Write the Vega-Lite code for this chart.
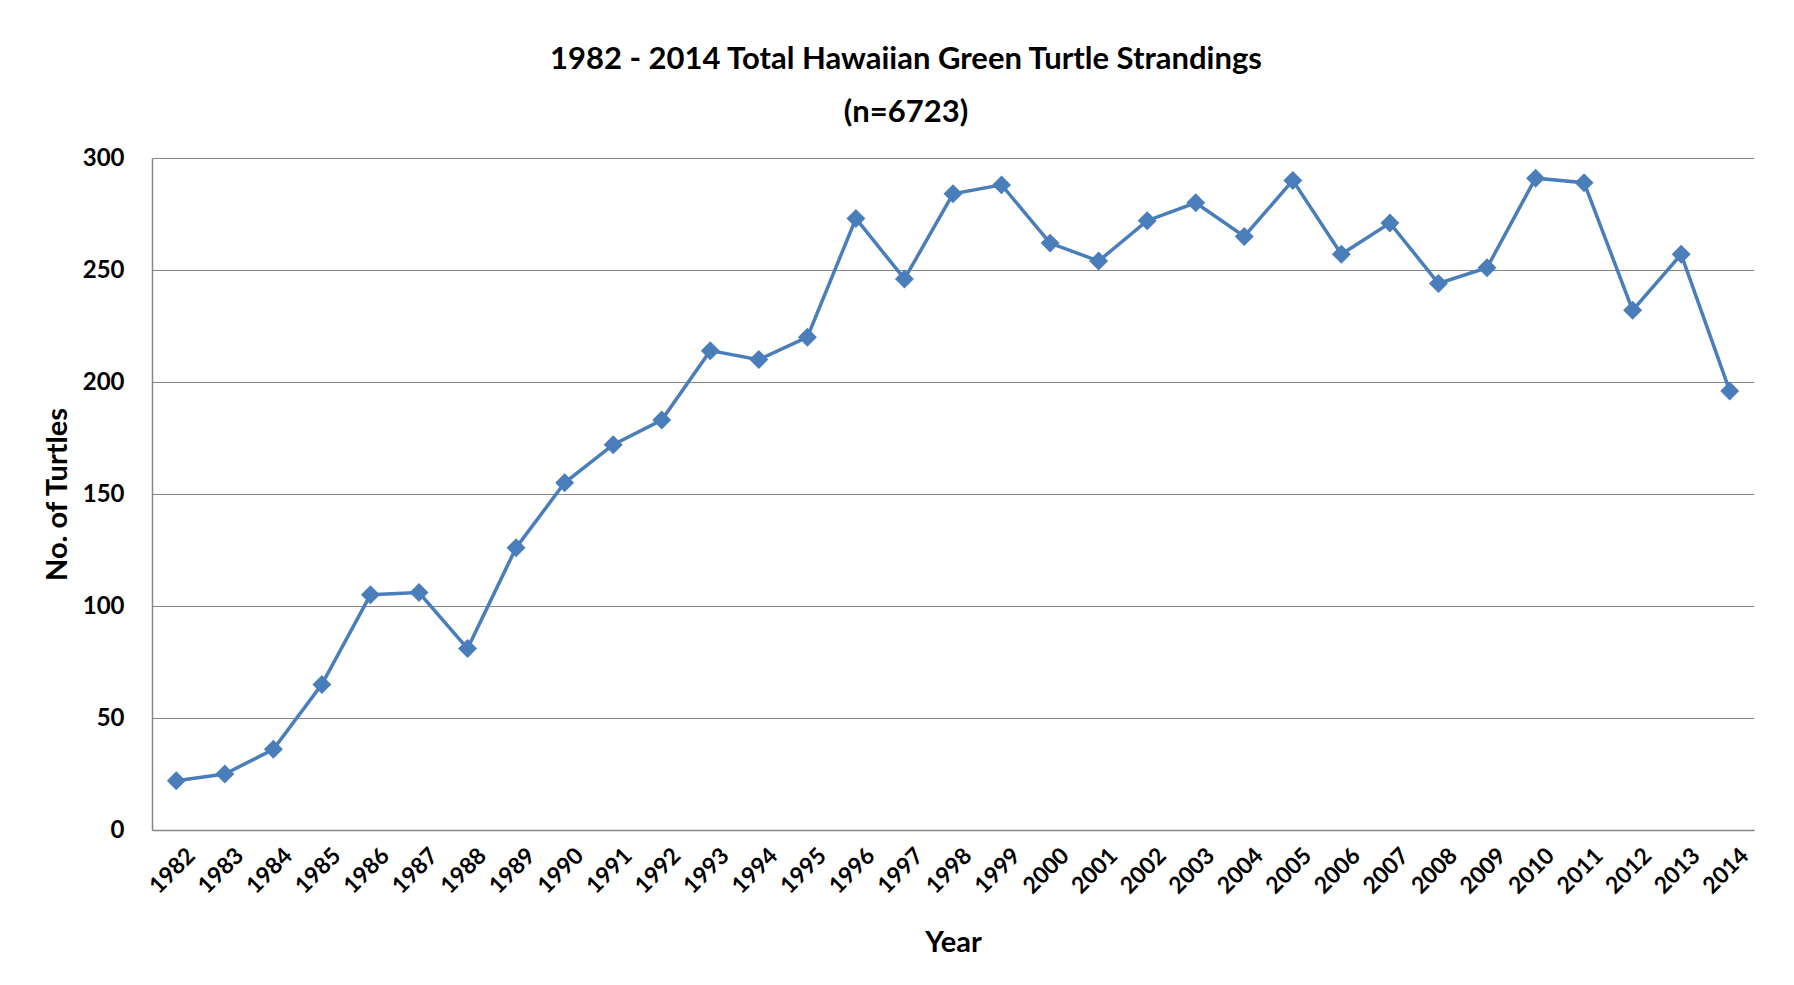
{
  "$schema": "https://vega.github.io/schema/vega-lite/v6.json",
  "width": 1602,
  "height": 672,
  "autosize": {"type": "none"},
  "padding": {"left": 152, "top": 158, "right": 40, "bottom": 155},
  "background": "white",
  "title": {
    "text": ["1982 - 2014 Total Hawaiian Green Turtle Strandings", "(n=6723)"],
    "anchor": "middle",
    "frame": "group",
    "dx": -47,
    "offset": 17,
    "font": "Lato",
    "fontSize": 31,
    "fontWeight": "bold",
    "lineHeight": 53,
    "color": "#000000"
  },
  "data": {
    "values": [
      {"year": "1982", "turtles": 22},
      {"year": "1983", "turtles": 25},
      {"year": "1984", "turtles": 36},
      {"year": "1985", "turtles": 65},
      {"year": "1986", "turtles": 105},
      {"year": "1987", "turtles": 106},
      {"year": "1988", "turtles": 81},
      {"year": "1989", "turtles": 126},
      {"year": "1990", "turtles": 155},
      {"year": "1991", "turtles": 172},
      {"year": "1992", "turtles": 183},
      {"year": "1993", "turtles": 214},
      {"year": "1994", "turtles": 210},
      {"year": "1995", "turtles": 220},
      {"year": "1996", "turtles": 273},
      {"year": "1997", "turtles": 246},
      {"year": "1998", "turtles": 284},
      {"year": "1999", "turtles": 288},
      {"year": "2000", "turtles": 262},
      {"year": "2001", "turtles": 254},
      {"year": "2002", "turtles": 272},
      {"year": "2003", "turtles": 280},
      {"year": "2004", "turtles": 265},
      {"year": "2005", "turtles": 290},
      {"year": "2006", "turtles": 257},
      {"year": "2007", "turtles": 271},
      {"year": "2008", "turtles": 244},
      {"year": "2009", "turtles": 251},
      {"year": "2010", "turtles": 291},
      {"year": "2011", "turtles": 289},
      {"year": "2012", "turtles": 232},
      {"year": "2013", "turtles": 257},
      {"year": "2014", "turtles": 196}
    ]
  },
  "mark": {
    "type": "line",
    "color": "#4A7EBB",
    "strokeWidth": 3.5,
    "point": {"shape": "diamond", "size": 360, "filled": true, "color": "#4A7EBB", "opacity": 1}
  },
  "encoding": {
    "x": {
      "field": "year",
      "type": "ordinal",
      "scale": {"type": "point", "padding": 0.5},
      "axis": {
        "title": "Year",
        "labelAngle": -45,
        "labelAlign": "right",
        "labelBaseline": "top",
        "labelPadding": 14,
        "labelOffset": 7,
        "labelFontSize": 23,
        "labelFont": "Lato",
        "labelFontWeight": "bold",
        "labelColor": "#000000",
        "ticks": false,
        "grid": false,
        "domain": true,
        "domainColor": "#868686",
        "domainWidth": 1.5,
        "titleFont": "Lato",
        "titleFontSize": 29,
        "titleFontWeight": "bold",
        "titleColor": "#000000",
        "titleX": 801,
        "titleY": 112,
        "titleBaseline": "middle",
        "titleAnchor": "middle"
      }
    },
    "y": {
      "field": "turtles",
      "type": "quantitative",
      "scale": {"domain": [0, 300], "nice": false},
      "axis": {
        "title": "No. of Turtles",
        "values": [0, 50, 100, 150, 200, 250, 300],
        "labelPadding": 28,
        "labelFontSize": 24,
        "labelFont": "Lato",
        "labelFontWeight": "bold",
        "labelColor": "#000000",
        "ticks": false,
        "grid": true,
        "gridColor": "#868686",
        "gridWidth": 1,
        "domain": true,
        "domainColor": "#868686",
        "domainWidth": 1.5,
        "titleFont": "Lato",
        "titleFontSize": 29,
        "titleFontWeight": "bold",
        "titleColor": "#000000",
        "titleAngle": -90,
        "titleX": -95,
        "titleY": 336,
        "titleBaseline": "middle",
        "titleAlign": "center"
      }
    }
  },
  "config": {
    "view": {"stroke": null}
  }
}
